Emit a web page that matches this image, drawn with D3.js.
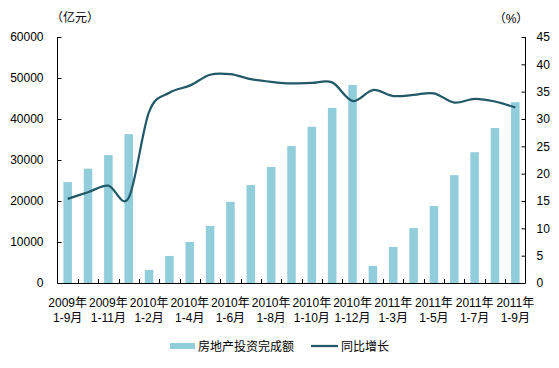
<!DOCTYPE html>
<html>
<head>
<meta charset="utf-8">
<script src="https://cdn.jsdelivr.net/npm/d3@7"></script>
<style>
  html, body { margin: 0; padding: 0; background: #fff; }
  svg { display: block; font-family: "Liberation Sans", "Noto Sans CJK SC", sans-serif; }
</style>
</head>
<body>
<svg id="chart" width="559" height="368"></svg>
<script>
// ---- data ----
const years = ["2009年","2009年","2009年","2009年",
  "2010年","2010年","2010年","2010年","2010年","2010年","2010年","2010年","2010年","2010年","2010年",
  "2011年","2011年","2011年","2011年","2011年","2011年","2011年","2011年"];
const months = ["1-9月","1-10月","1-11月","1-12月",
  "1-2月","1-3月","1-4月","1-5月","1-6月","1-7月","1-8月","1-9月","1-10月","1-11月","1-12月",
  "1-2月","1-3月","1-4月","1-5月","1-6月","1-7月","1-8月","1-9月"];
const investment = [24600, 27900, 31200, 36300,
  3200, 6600, 10000, 13900, 19800, 23900, 28300, 33400, 38100, 42700, 48300,
  4150, 8800, 13400, 18800, 26300, 31900, 37800, 44100];
const growth = [15.4, 16.6, 17.8, 15.6,
  31.3, 34.8, 36.1, 38.1, 38.2, 37.3, 36.8, 36.5, 36.6, 36.7, 33.3,
  35.3, 34.2, 34.4, 34.7, 33.0, 33.7, 33.2, 32.1];
const leftTicks = [0, 10000, 20000, 30000, 40000, 50000, 60000];
const rightTicks = [0, 5, 10, 15, 20, 25, 30, 35, 40, 45];
const seriesNames = ["房地产投资完成额", "同比增长"];
const unitLeft = "（亿元）";
const unitRight = "（%）";

// ---- layout ----
const svg = d3.select("#chart");
const L = 57.5, R = 525.5, T = 37, B = 283;
const barColor = "#92CDDC", lineColor = "#215968";
const fontSize = 12;

const idx = d3.range(investment.length);
const x = d3.scaleBand().domain(idx).range([L, R]).paddingInner(0.58).paddingOuter(0.29);
const step = x.step();
const yL = d3.scaleLinear().domain([0, 60000]).range([B, T]);
const yR = d3.scaleLinear().domain([0, 45]).range([B, T]);

// bars
svg.append("g").selectAll("rect").data(investment).join("rect")
  .attr("x", (d, i) => x(i))
  .attr("width", x.bandwidth())
  .attr("y", d => yL(d))
  .attr("height", d => yL(0) - yL(d))
  .attr("fill", barColor);

// left axis
const axL = svg.append("g").attr("transform", `translate(${L},0)`)
  .call(d3.axisLeft(yL).tickValues(leftTicks).tickSize(-4).tickPadding(14).tickFormat(d3.format("d")));
axL.select(".domain").attr("stroke", "#000").attr("d", `M0,${T}V${B}`);
axL.selectAll(".tick line").attr("stroke", "#000");
axL.selectAll("text").attr("font-size", fontSize).attr("fill", "#000").attr("font-family", null);

// right axis
const axR = svg.append("g").attr("transform", `translate(${R},0)`)
  .call(d3.axisRight(yR).tickValues(rightTicks).tickSize(-4).tickPadding(11));
axR.select(".domain").attr("stroke", "#000").attr("d", `M0,${T}V${B}`);
axR.selectAll(".tick line").attr("stroke", "#000");
axR.selectAll("text").attr("font-size", fontSize).attr("fill", "#000").attr("font-family", null);

// bottom axis
svg.append("line").attr("x1", L).attr("x2", R).attr("y1", B + 0.5).attr("y2", B + 0.5).attr("stroke", "#000");
svg.append("g").selectAll("line").data(d3.range(1, idx.length)).join("line")
  .attr("x1", i => Math.round(L + i * step) + 0.5)
  .attr("x2", i => Math.round(L + i * step) + 0.5)
  .attr("y1", B - 4).attr("y2", B)
  .attr("stroke", "#000");

// category labels (every other)
const lab = svg.append("g").attr("font-size", fontSize).attr("text-anchor", "middle").attr("fill", "#000");
idx.filter(i => i % 2 === 0).forEach(i => {
  const cx = x(i) + x.bandwidth() / 2;
  lab.append("text").attr("x", cx).attr("y", 307).text(years[i]);
  lab.append("text").attr("x", cx).attr("y", 321.5).text(months[i]);
});

// line
const line = d3.line()
  .x((d, i) => x(i) + x.bandwidth() / 2)
  .y(d => yR(d))
  .curve(d3.curveCardinal.tension(0));
svg.append("path").datum(growth)
  .attr("d", line)
  .attr("fill", "none")
  .attr("stroke", lineColor)
  .attr("stroke-width", 2.25);

// unit labels
svg.append("text").attr("x", 75).attr("y", 22).attr("text-anchor", "middle")
  .attr("font-size", fontSize).text(unitLeft);
svg.append("text").attr("x", 511).attr("y", 23).attr("text-anchor", "middle")
  .attr("font-size", fontSize).text(unitRight);

// legend
const lg = svg.append("g").attr("font-size", fontSize);
lg.append("rect").attr("x", 170).attr("y", 343).attr("width", 25).attr("height", 6).attr("fill", barColor);
lg.append("text").attr("x", 198).attr("y", 351).text(seriesNames[0]);
lg.append("line").attr("x1", 311).attr("x2", 338).attr("y1", 346).attr("y2", 346)
  .attr("stroke", lineColor).attr("stroke-width", 2.25);
lg.append("text").attr("x", 341).attr("y", 351).text(seriesNames[1]);
</script>
</body>
</html>
